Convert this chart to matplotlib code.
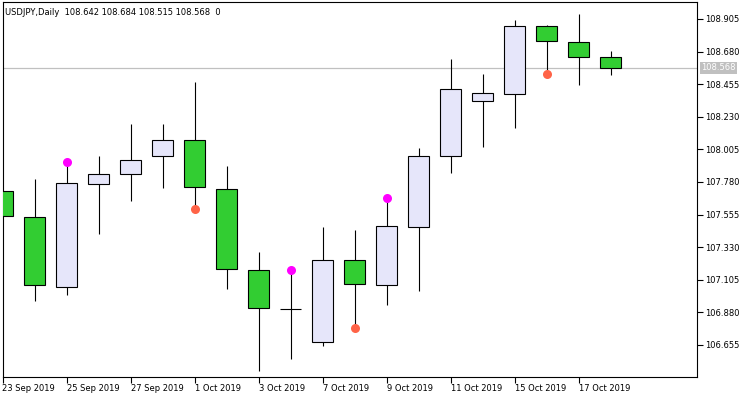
import matplotlib as mpl
import matplotlib.pyplot as plt
from matplotlib.ticker import FixedLocator, NullFormatter
import numpy as np


SYMBOL = "USDJPY,Daily"
DATES = [
    "23 Sep 2019", "24 Sep 2019", "25 Sep 2019", "26 Sep 2019", "27 Sep 2019",
    "30 Sep 2019", "1 Oct 2019", "2 Oct 2019", "3 Oct 2019", "4 Oct 2019",
    "7 Oct 2019", "8 Oct 2019", "9 Oct 2019", "10 Oct 2019", "11 Oct 2019",
    "14 Oct 2019", "15 Oct 2019", "16 Oct 2019", "17 Oct 2019", "18 Oct 2019",
]
OPEN = [107.716, 107.536, 107.053, 107.764, 107.833, 107.957, 108.068, 107.730,
        107.171, 106.904, 106.674, 107.240, 107.067, 107.467, 107.960, 108.337,
        108.385, 108.855, 108.744, 108.642]
HIGH = [107.716, 107.801, 107.912, 107.960, 108.180, 108.180, 108.470, 107.891,
        107.297, 107.165, 107.470, 107.449, 107.660, 108.015, 108.629, 108.525,
        108.898, 108.864, 108.940, 108.684]
LOW = [107.544, 106.961, 106.998, 107.421, 107.651, 107.741, 107.614, 107.044,
       106.478, 106.561, 106.650, 106.790, 106.933, 107.030, 107.844, 108.024,
       108.155, 108.540, 108.452, 108.515]
CLOSE = [107.544, 107.067, 107.771, 107.833, 107.930, 108.068, 107.744, 107.178,
         106.909, 106.904, 107.240, 107.074, 107.474, 107.957, 108.420, 108.392,
         108.855, 108.751, 108.641, 108.568]

# markers above highs / below lows (bar index, price)
UP_MARKS = [(2, 107.920), (9, 107.173), (12, 107.668)]
DOWN_MARKS = [(6, 107.594), (11, 106.775), (17, 108.525)]

Y_TICKS = [106.655, 106.880, 107.105, 107.330, 107.555, 107.780,
           108.005, 108.230, 108.455, 108.680, 108.905]
LAST_PRICE = 108.568


def main() -> None:
    mpl.rcParams.update(
        {
            "font.family": "DejaVu Sans",
            "font.size": 6,
            "axes.linewidth": 0.8,
        }
    )

    fig = plt.figure(figsize=(7.5, 3.98), dpi=100)
    ax = fig.add_axes([2.5 / 750, 21 / 398, 694.5 / 750, 375 / 398])

    x = np.arange(len(DATES))
    o = np.array(OPEN)
    c = np.array(CLOSE)
    bull = c >= o
    colors = np.where(bull, "#E6E6FA", "#32CD32")

    ax.vlines(x, LOW, HIGH, color="black", linewidth=0.8, zorder=2)
    ax.bar(
        x,
        np.abs(c - o),
        bottom=np.minimum(o, c),
        width=0.66,
        color=colors,
        edgecolor="black",
        linewidth=0.8,
        zorder=3,
    )

    ux, uy = zip(*UP_MARKS)
    dx, dy = zip(*DOWN_MARKS)
    ax.plot(ux, uy, "o", color="#FF00FF", markersize=6.5, markeredgewidth=0, zorder=4)
    ax.plot(dx, dy, "o", color="#FF6347", markersize=6.5, markeredgewidth=0, zorder=4)

    ax.axhline(LAST_PRICE, color="#C0C0C0", linewidth=0.9, zorder=1)

    ax.set_xlim(0, 21.7)
    ax.set_ylim(106.434, 109.022)

    ax.yaxis.tick_right()
    ax.yaxis.set_major_locator(FixedLocator(Y_TICKS))
    ax.set_yticklabels([f"{v:.3f}" for v in Y_TICKS])
    ax.tick_params(axis="y", direction="out", length=4, width=0.8, pad=2,
                   labelsize=6)

    xt = x[::2]
    ax.set_xticks(xt)
    ax.set_xticklabels([DATES[i] for i in xt], ha="left")
    ax.tick_params(axis="x", direction="out", length=4, width=0.8, pad=1,
                   labelsize=6)

    ax.text(0.004, 0.985,
            f"{SYMBOL}  {OPEN[-1]:.3f} {HIGH[-1]:.3f} {LOW[-1]:.3f} {CLOSE[-1]:.3f}  0",
            transform=ax.transAxes, ha="left", va="top", fontsize=6)

    ax.annotate(
        f"{LAST_PRICE:.3f}",
        xy=(1, LAST_PRICE),
        xycoords=("axes fraction", "data"),
        xytext=(3, 0),
        textcoords="offset points",
        ha="left",
        va="center",
        color="white",
        fontsize=6,
        bbox=dict(boxstyle="square,pad=0.15", facecolor="#C0C0C0",
                  edgecolor="none"),
        annotation_clip=False,
    )

    fig.savefig("out.png", dpi=100)
    plt.close(fig)


if __name__ == "__main__":
    main()
